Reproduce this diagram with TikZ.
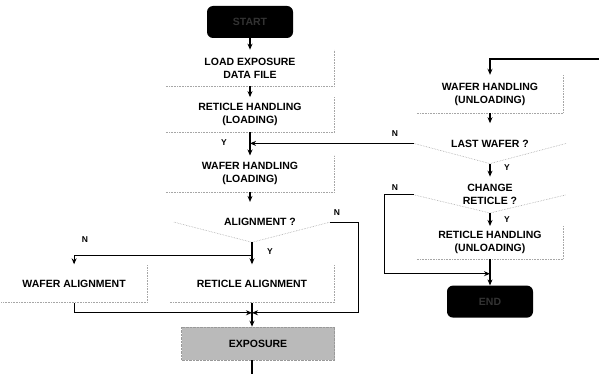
\documentclass[tikz,border=0pt]{standalone}
\usepackage{fontspec}
\setmainfont{Liberation Sans}
\usepackage{tikz}
\usetikzlibrary{arrows.meta, positioning, shapes.geometric, calc}

\begin{document}
\begin{tikzpicture}[
    x=1pt, y=-1pt,
    node distance=12pt and 20pt,
    font=\bfseries\fontsize{10.5}{13}\selectfont,
    box/.style={minimum width=146pt, minimum height=36pt, inner sep=1pt, align=center},
    term/.style={fill=black, text=black!80, rounded corners=6pt, minimum width=86pt, minimum height=32pt},
    ask/.style={diamond, aspect=4, minimum width=156pt, minimum height=40pt, inner sep=0pt, align=center},
    shade/.style={fill=black!27, draw=black!40, densely dotted, minimum width=153pt, minimum height=33pt},
    rim/.style={draw=black!35, densely dotted, line width=0.6pt},
    lbl/.style={inner sep=0pt, font=\bfseries\fontsize{8.5}{9}\selectfont},
    arrow/.style={-{Stealth[length=6pt, width=5pt]}, line width=1.1pt},
    line/.style={line width=1.1pt}
]
    \useasboundingbox (0,0) rectangle (599,374);

    % left column
    \node[term] (start) at (250,22) {START};
    \node[box, below=11.5pt of start, minimum width=168pt] (load) {LOAD EXPOSURE\\DATA FILE};
    \node[box, below=11pt of load, minimum width=168pt, minimum height=35pt] (rhl) {RETICLE HANDLING\\(LOADING)};
    \node[box, below=23pt of rhl, minimum width=168pt] (whl) {WAFER HANDLING\\(LOADING)};
    \node[ask, below=10pt of whl, xshift=2pt] (align) {\hspace*{16pt}ALIGNMENT ?};
    \node[box, below=22pt of align.south, anchor=north, minimum width=164pt, minimum height=38pt] (ralign) {RETICLE ALIGNMENT};
    \node[box, left=23pt of ralign, minimum width=145pt, minimum height=38pt] (walign) {WAFER ALIGNMENT};
    \node[shade, below=24pt of ralign, xshift=6pt] (exposure) {EXPOSURE};

    % right column
    \node[box, minimum height=38pt] (whu) at (490,94) {WAFER HANDLING\\(UNLOADING)};
    \node[ask, below=10pt of whu, minimum width=152pt] (lastw) {LAST WAFER ?};
    \node[ask, below=13pt of lastw, minimum width=152pt, minimum height=36pt] (chg) {CHANGE\\RETICLE ?};
    \node[box, below=13pt of chg, minimum height=33pt] (rhu) {RETICLE HANDLING\\(UNLOADING)};
    \node[term, below=26pt of rhu] (end) {END};

    % faint outlines
    \foreach \n in {load, rhl, whl, walign, ralign, whu, rhu}
        \draw[rim] (\n.south west) -- (\n.south east) -- (\n.north east);
    \foreach \n in {align, lastw, chg}
        \draw[rim] (\n.west) -- (\n.south) -- (\n.east);

    % junctions and loose ends
    \coordinate (j1) at ($(rhl.south)!0.5!(whl.north)$);
    \coordinate (j2) at ($(align.south)!0.6!(ralign.north)$);
    \coordinate (j3) at ($(ralign.south)!0.42!(ralign.south |- exposure.north)$);
    \coordinate (j4) at ($(rhu.south)!0.55!(end.north)$);
    \coordinate (loopin) at (599,59);
    \coordinate (loopout) at (250,374);

    % flow
    \draw[arrow] (start) -- (load);
    \draw[arrow] (load) -- (rhl);
    \draw[arrow] (rhl) -- (whl);
    \draw[arrow] (whl.south) -- (whl.south |- align.north);
    \draw[line] (align.south) -- (j2);
    \draw[arrow] (j2) -- (ralign.north);
    \draw[arrow] (j2) -| (walign.north);
    \draw[arrow] (align.east) -- ++(28,0) |- (j3);
    \draw[arrow] (walign.south) |- (j3);
    \draw[arrow] (ralign.south) -- (ralign.south |- exposure.north);
    \draw[line] (ralign.south |- exposure.south) -- (ralign.south |- loopout);

    \draw[arrow] (loopin) -| (whu.north);
    \draw[arrow] (whu) -- (lastw);
    \draw[arrow] (lastw) -- (chg);
    \draw[arrow] (chg) -- (rhu);
    \draw[arrow] (rhu) -- (end);
    \draw[arrow] (lastw.west) -- (lastw.west -| j1);
    \draw[arrow] (chg.west) -- ++(-29,0) |- (j4);

    % branch labels
    \node[lbl] (y1) at (224,143) {Y};
    \node[lbl] (n1) at (337,213) {N};
    \node[lbl] (y2) at (270,252) {Y};
    \node[lbl] (n2) at (85,240) {N};
    \node[lbl] (n3) at (395,134) {N};
    \node[lbl] (y3) at (507,168) {Y};
    \node[lbl] (n4) at (395,188) {N};
    \node[lbl] (y4) at (507,220) {Y};
\end{tikzpicture}
\end{document}
